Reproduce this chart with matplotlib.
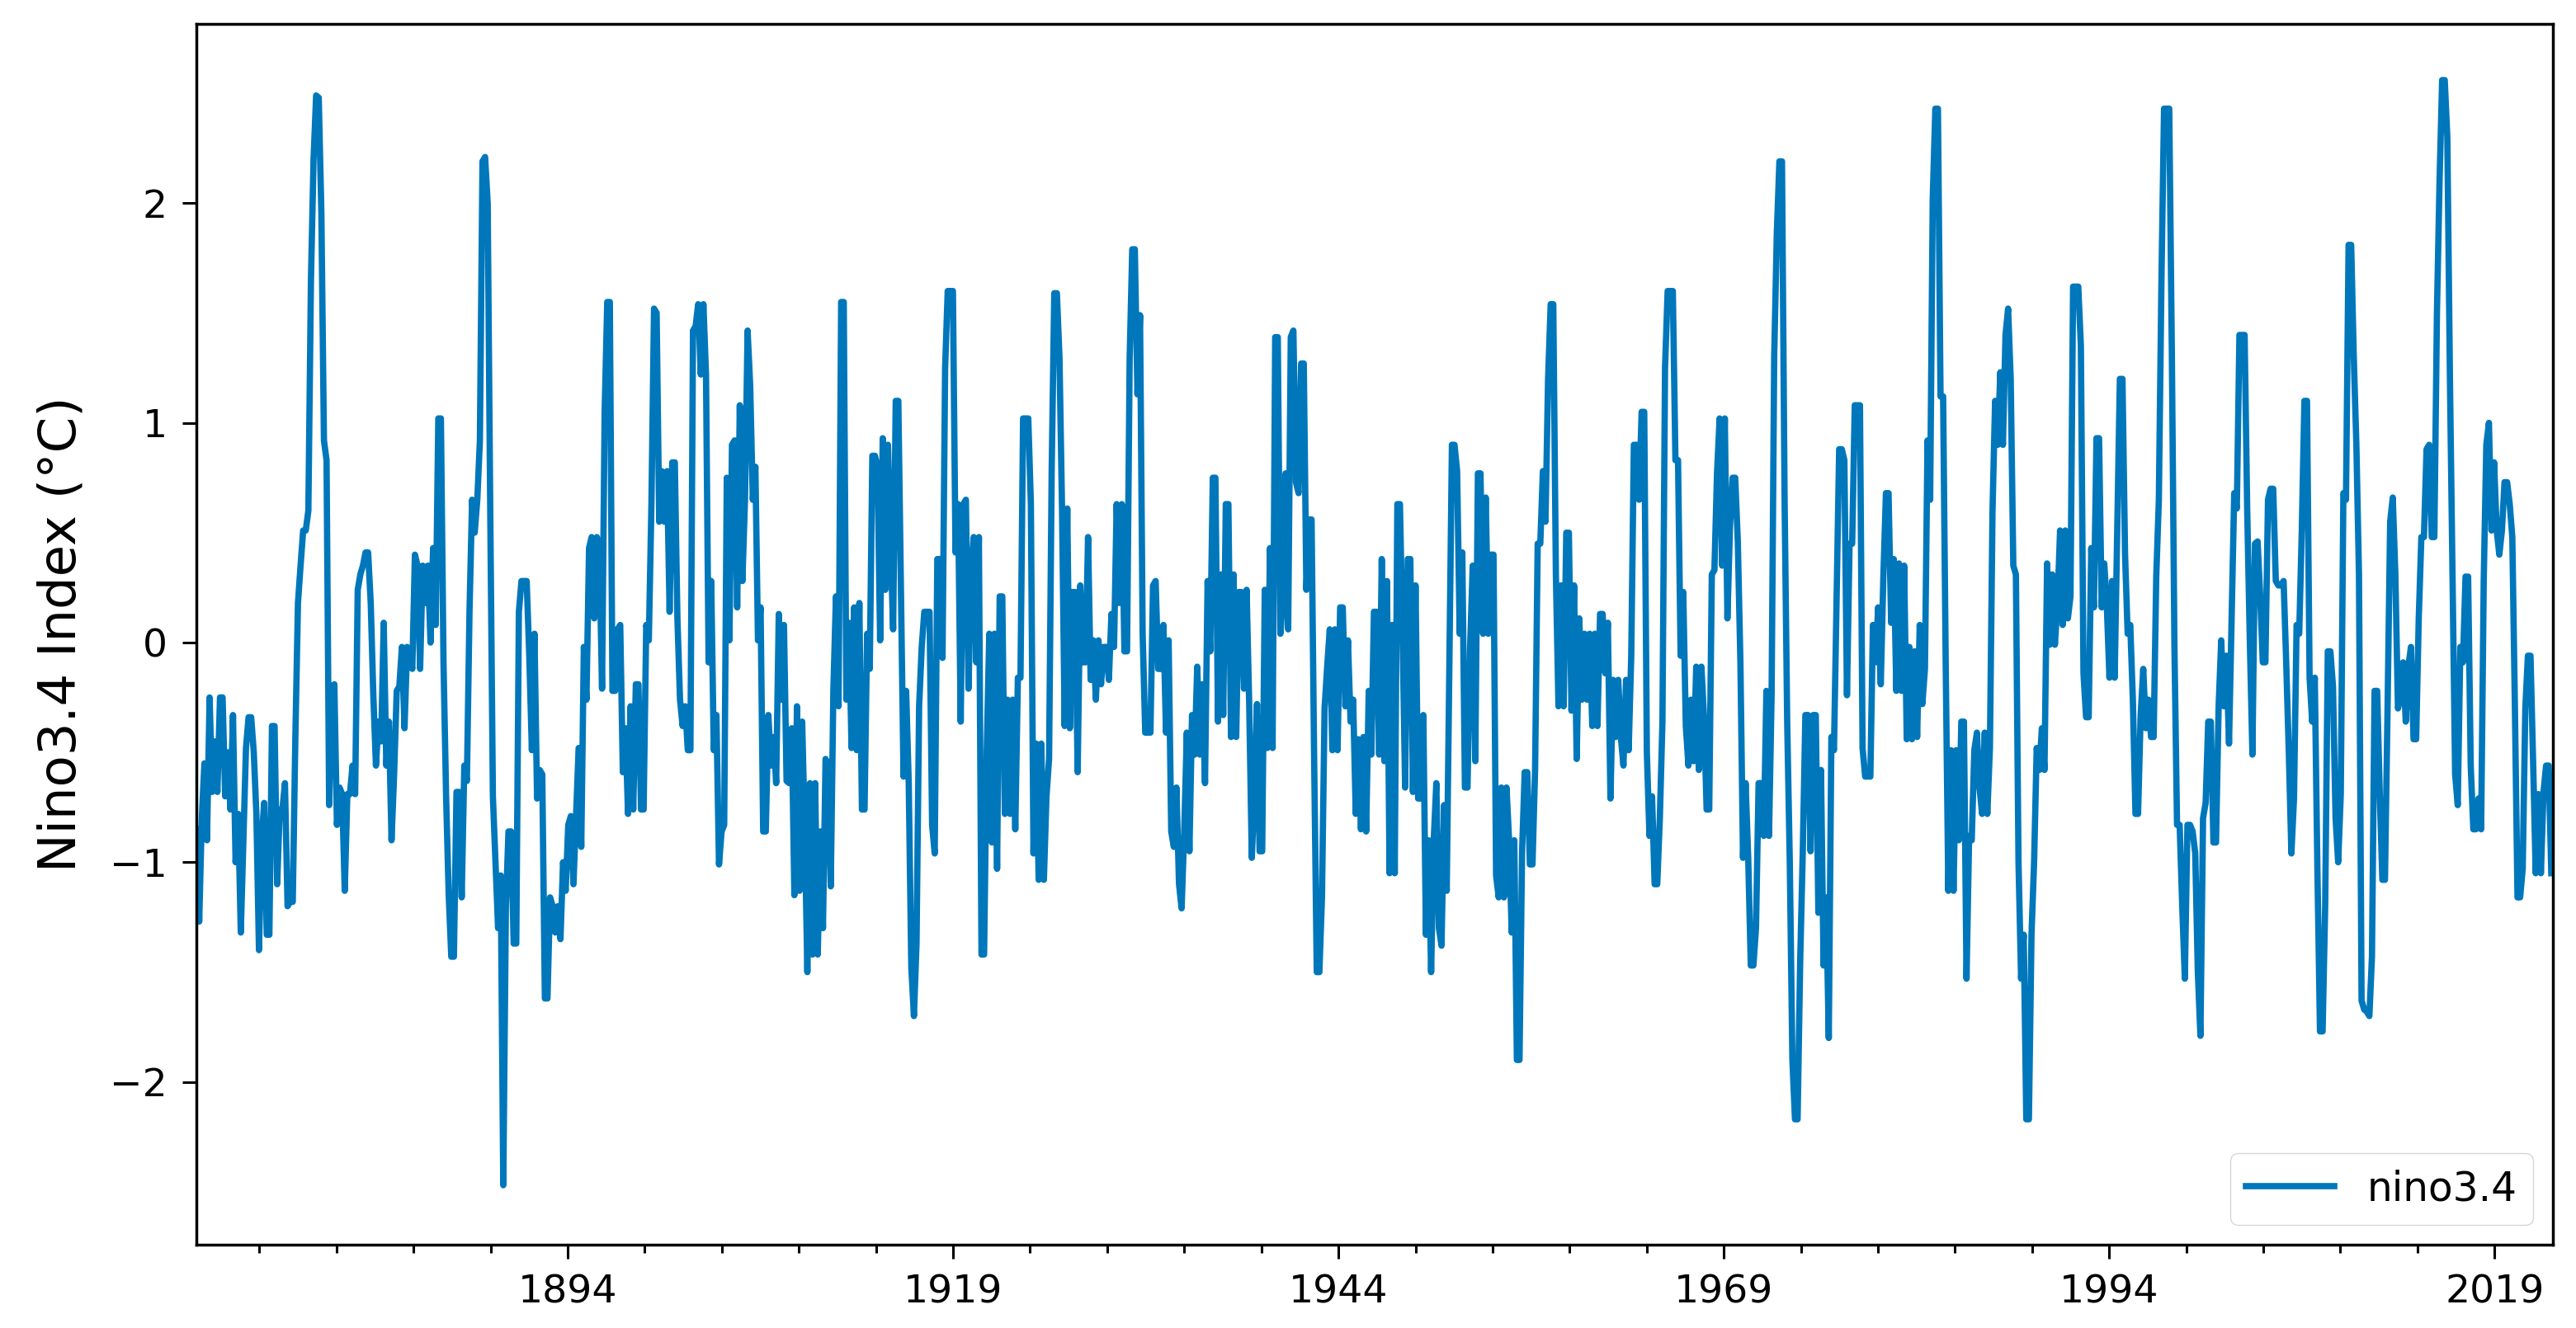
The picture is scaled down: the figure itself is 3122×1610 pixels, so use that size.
import matplotlib
matplotlib.use("Agg")
import matplotlib.pyplot as plt
import numpy as np

# Nino3.4 index, one value about every two months,
# in eight blocks of ~19 years each
t0 = 1869.93      # first sample (year)
dt = 0.1686       # sample spacing (years)

nino_1870 = [
    -0.85, -1.27, -0.8, -0.55, -0.9, -0.25, -0.68, -0.45, -0.68, -0.25,
    -0.25, -0.7, -0.5, -0.76, -0.33, -1.0, -0.78, -1.32, -0.9, -0.48,
    -0.34, -0.34, -0.5, -0.78, -1.4, -0.9, -0.73, -1.33, -1.33, -0.38,
    -0.38, -1.1, -0.76, -0.76, -0.64, -1.2, -1.18, -1.18, -0.43, 0.18,
    0.35, 0.51, 0.51, 0.6, 1.65, 2.2, 2.49, 2.48, 1.96, 0.92,
    0.83, -0.74, -0.2, -0.19, -0.83, -0.66, -0.69, -1.13, -0.69, -0.69,
    -0.56, -0.69, 0.24, 0.31, 0.35, 0.41, 0.41, 0.18, -0.24, -0.56,
    -0.36, -0.45, 0.09, -0.56, -0.36, -0.9, -0.6, -0.22, -0.2, -0.02,
    -0.39, -0.02, -0.05, -0.12, 0.4, 0.35, -0.12, 0.35, 0.18, 0.35,
    0.0, 0.43, 0.08, 1.02, 1.02, -0.09, -0.7, -1.15, -1.43, -1.43,
    -0.68, -0.68, -1.16, -0.56, -0.63, 0.14, 0.65, 0.5, 0.65, 0.92,
    2.19, 2.21, 2.0, 0.58]

nino_1889 = [
    -0.7, -1.0, -1.3, -1.06, -2.47, -1.2, -0.86, -0.86, -1.37, -1.37,
    0.14, 0.28, 0.28, 0.28, -0.06, -0.49, 0.04, -0.71, -0.58, -0.6,
    -1.62, -1.62, -1.16, -1.2, -1.32, -1.2, -1.35, -1.0, -1.13, -0.83,
    -0.79, -1.1, -0.79, -0.48, -0.93, -0.02, -0.26, 0.43, 0.48, 0.11,
    0.48, 0.4, -0.21, 1.05, 1.55, 1.55, -0.22, -0.22, 0.06, 0.08,
    -0.59, -0.39, -0.78, -0.29, -0.76, -0.19, -0.19, -0.76, -0.76, 0.08,
    0.01, 0.63, 1.52, 1.5, 0.55, 0.78, 0.55, 0.78, 0.14, 0.82,
    0.82, 0.11, -0.26, -0.38, -0.29, -0.49, -0.49, 1.42, 1.44, 1.54,
    1.22, 1.54, 1.22, -0.09, 0.28, -0.49, -0.33, -1.01, -0.86, -0.83,
    0.75, 0.01, 0.9, 0.92, 0.16, 1.08, 0.28, 0.65, 1.42, 1.17,
    0.65, 0.8, 0.01, 0.16, -0.86, -0.86, -0.33, -0.56, -0.43, -0.64,
    0.13, -0.26, 0.08, -0.63]

nino_1908 = [
    -0.64, -0.39, -1.15, -0.29, -1.13, -0.36, -0.85, -1.5, -0.64, -1.42,
    -0.64, -1.42, -0.86, -1.3, -0.53, -0.56, -1.11, -0.22, 0.21, -0.29,
    1.55, 1.55, -0.26, 0.09, -0.48, 0.16, -0.49, 0.18, -0.76, -0.76,
    0.04, -0.12, 0.85, 0.85, 0.8, 0.01, 0.93, 0.24, 0.9, 0.45,
    0.06, 1.1, 1.1, 0.24, -0.61, -0.22, -0.64, -1.48, -1.7, -1.37,
    -0.29, -0.02, 0.14, 0.14, 0.14, -0.83, -0.96, 0.38, 0.38, -0.07,
    1.25, 1.6, 1.6, 1.6, 0.41, 0.63, -0.36, 0.63, 0.65, -0.21,
    0.31, 0.48, -0.09, 0.48, -1.42, -1.42, -0.5, 0.04, -0.91, 0.04,
    -1.03, 0.21, 0.21, -0.78, -0.26, -0.78, -0.26, -0.85, -0.16, -0.16,
    1.02, 1.02, 1.02, 0.63, -0.96, -0.46, -1.08, -0.46, -1.08, -0.7,
    -0.53, 0.78, 1.59, 1.59, 1.3, 0.6, -0.38, 0.61, -0.39, 0.23,
    0.23, -0.59, 0.26, -0.09]

nino_1928 = [
    -0.09, 0.48, -0.17, 0.01, -0.26, 0.01, -0.19, -0.02, -0.02, -0.17,
    0.13, -0.02, 0.63, 0.18, 0.63, -0.04, -0.04, 1.29, 1.79, 1.79,
    1.13, 1.49, 0.04, -0.41, -0.41, -0.41, 0.26, 0.28, -0.12, -0.12,
    0.08, -0.41, 0.01, -0.86, -0.93, -0.66, -1.1, -1.21, -0.86, -0.41,
    -0.95, -0.33, -0.51, -0.11, -0.51, -0.19, -0.64, 0.28, -0.04, 0.75,
    0.75, -0.36, 0.31, -0.33, 0.63, 0.63, -0.43, 0.31, -0.43, 0.23,
    0.23, -0.21, 0.24, -0.28, -0.98, -0.69, -0.28, -0.95, -0.95, 0.24,
    -0.48, 0.43, -0.48, 1.39, 1.39, 0.04, 0.21, 0.77, 0.06, 1.39,
    1.42, 0.73, 0.68, 1.27, 1.27, 0.24, 0.56, 0.56, -0.54, -1.5,
    -1.5, -1.16, -0.3, -0.11, 0.06, -0.49, 0.06, -0.49, 0.16, 0.16,
    -0.29, 0.01, -0.36, -0.26, -0.78, -0.44, -0.85, -0.43, -0.86, -0.22,
    -0.51, 0.14, 0.14, -0.51]

nino_1947 = [
    0.38, -0.54, 0.28, -1.05, 0.08, -1.05, 0.63, 0.63, 0.04, -0.66,
    0.38, 0.38, -0.68, 0.26, -0.71, -0.71, -0.33, -1.33, -0.9, -1.5,
    -0.9, -0.64, -1.3, -1.38, -0.74, -1.13, -0.11, 0.9, 0.9, 0.78,
    0.04, 0.41, -0.66, -0.66, -0.02, 0.35, -0.54, 0.77, 0.77, 0.04,
    0.66, 0.04, 0.4, 0.4, -1.06, -1.16, -0.66, -1.16, -0.66, -0.9,
    -1.32, -0.9, -1.9, -1.9, -0.95, -0.59, -0.59, -1.01, -1.01, -0.58,
    0.45, 0.45, 0.78, 0.55, 1.2, 1.54, 1.54, 0.31, -0.29, 0.26,
    -0.29, 0.5, 0.5, -0.31, 0.26, -0.53, 0.11, -0.26, 0.04, -0.26,
    0.04, -0.38, 0.04, -0.38, 0.13, 0.13, -0.14, 0.09, -0.71, -0.17,
    -0.43, -0.17, -0.43, -0.56, -0.17, -0.49, -0.06, 0.9, 0.9, 0.65,
    1.05, 1.05, -0.5, -0.88, -0.7, -1.1, -1.1, -0.8, -0.36, 1.25,
    1.6, 1.6, 1.6, 0.83]

nino_1966 = [
    0.83, -0.06, 0.23, -0.38, -0.56, -0.26, -0.54, -0.11, -0.58, -0.11,
    -0.34, -0.76, -0.76, 0.31, 0.33, 0.77, 1.02, 0.35, 1.02, 0.11,
    0.53, 0.75, 0.75, 0.46, -0.09, -0.98, -0.64, -0.98, -1.47, -1.47,
    -1.3, -0.64, -0.64, -0.88, -0.22, -0.88, -0.24, 1.3, 1.86, 2.19,
    2.19, 0.65, -0.36, -1.0, -1.9, -2.17, -2.17, -1.45, -0.95, -0.33,
    -0.33, -0.95, -0.33, -0.33, -1.23, -0.58, -1.47, -1.16, -1.8, -0.43,
    -0.49, 0.2, 0.88, 0.88, 0.83, -0.24, 0.45, 0.45, 1.08, 1.08,
    1.08, -0.48, -0.61, -0.61, -0.61, 0.08, -0.09, 0.16, -0.19, 0.3,
    0.68, 0.68, 0.09, 0.38, -0.22, 0.36, -0.22, 0.35, -0.44, -0.02,
    -0.44, -0.04, -0.43, 0.08, -0.28, -0.12, 0.92, 0.65, 2.02, 2.43,
    2.43, 1.12, 1.12, -0.11, -1.13, -0.49, -1.13, -0.49, -0.9, -0.36,
    -0.36, -1.53, -0.88, -0.9]

nino_1985 = [
    -0.49, -0.41, -0.66, -0.78, -0.41, -0.78, -0.48, 0.6, 1.1, 0.9,
    1.23, 0.9, 1.4, 1.52, 1.2, 0.35, 0.31, -1.0, -1.53, -1.33,
    -2.17, -2.17, -1.33, -1.0, -0.48, -0.58, -0.39, -0.58, 0.36, -0.01,
    0.31, -0.01, 0.18, 0.51, 0.08, 0.51, 0.11, 0.21, 1.62, 1.62,
    1.62, 1.35, -0.14, -0.34, -0.34, 0.43, 0.16, 0.93, 0.93, 0.16,
    0.36, 0.16, -0.16, 0.28, -0.16, 0.51, 1.2, 1.2, 0.4, 0.04,
    0.08, -0.26, -0.78, -0.78, -0.33, -0.12, -0.39, -0.26, -0.43, -0.43,
    0.3, 0.65, 1.65, 2.43, 2.43, 2.43, 1.32, -0.02, -0.83, -0.83,
    -1.2, -1.53, -0.83, -0.83, -0.86, -0.96, -1.5, -1.79, -0.8, -0.73,
    -0.36, -0.36, -0.91, -0.91, -0.29, 0.01, -0.29, -0.06, -0.46, 0.11,
    0.68, 0.61, 1.4, 1.4, 1.4, 0.6, 0.01, -0.51, 0.45, 0.46,
    0.21, -0.09, -0.09, 0.65]

nino_2004 = [
    0.7, 0.7, 0.28, 0.26, 0.26, 0.28, -0.09, -0.5, -0.96, -0.71,
    0.08, 0.04, 0.51, 1.1, 1.1, -0.16, -0.36, -0.16, -1.03, -1.77,
    -1.77, -1.2, -0.04, -0.04, -0.2, -0.8, -1.0, -0.69, 0.68, 0.65,
    1.81, 1.81, 1.3, 0.9, 0.31, -1.63, -1.67, -1.68, -1.7, -1.43,
    -0.22, -0.22, -0.69, -1.08, -1.08, -0.3, 0.55, 0.66, 0.31, -0.3,
    -0.25, -0.09, -0.36, -0.11, -0.02, -0.44, -0.44, 0.11, 0.48, 0.48,
    0.88, 0.9, 0.48, 0.48, 1.5, 2.1, 2.56, 2.56, 2.3, 1.2,
    0.3, -0.6, -0.74, -0.02, -0.09, 0.3, 0.3, -0.56, -0.85, -0.85,
    -0.71, -0.85, 0.28, 0.9, 1.0, 0.51, 0.82, 0.51, 0.4, 0.51,
    0.73, 0.73, 0.63, 0.48, -0.3, -1.16, -1.16, -1.03, -0.3, -0.06,
    -0.06, -0.54, -1.05, -0.69, -1.05, -0.68, -0.56, -0.56, -1.05]

major_years = [1894, 1919, 1944, 1969, 1994, 2019]
minor_years = [1874, 1879, 1884, 1889, 1899, 1904, 1909, 1914, 1924, 1929,
               1934, 1939, 1949, 1954, 1959, 1964, 1974, 1979, 1984, 1989,
               1999, 2004, 2009, 2014]

nino34 = np.concatenate([nino_1870, nino_1889, nino_1908, nino_1928,
                         nino_1947, nino_1966, nino_1985, nino_2004])
years = t0 + dt * np.arange(len(nino34))

fig = plt.figure(figsize=(31.22, 16.10), dpi=100)
ax = fig.add_axes([0.0762, 0.0627, 0.9148, 0.9195])

ax.plot(years, nino34, color="#0077bb", lw=5.5, label="nino3.4")

ax.set_xlim(1869.91, 2022.78)
ax.set_ylim(-2.741, 2.817)
ax.set_xticks(major_years)
ax.set_xticklabels([str(y) for y in major_years])
ax.set_xticks(minor_years, minor=True)
ax.set_yticks([-2, -1, 0, 1, 2])

ax.tick_params(which="major", length=12.5, width=2.2, pad=13, labelsize=34)
ax.tick_params(which="minor", length=7, width=2.2)
for s in ax.spines.values():
    s.set_linewidth(2.5)

ax.set_ylabel("Nino3.4 Index (°C)", fontsize=45, labelpad=20)
ax.legend(loc="lower right", fontsize=35, handlelength=2.2)

fig.savefig("out.png", dpi=100)
